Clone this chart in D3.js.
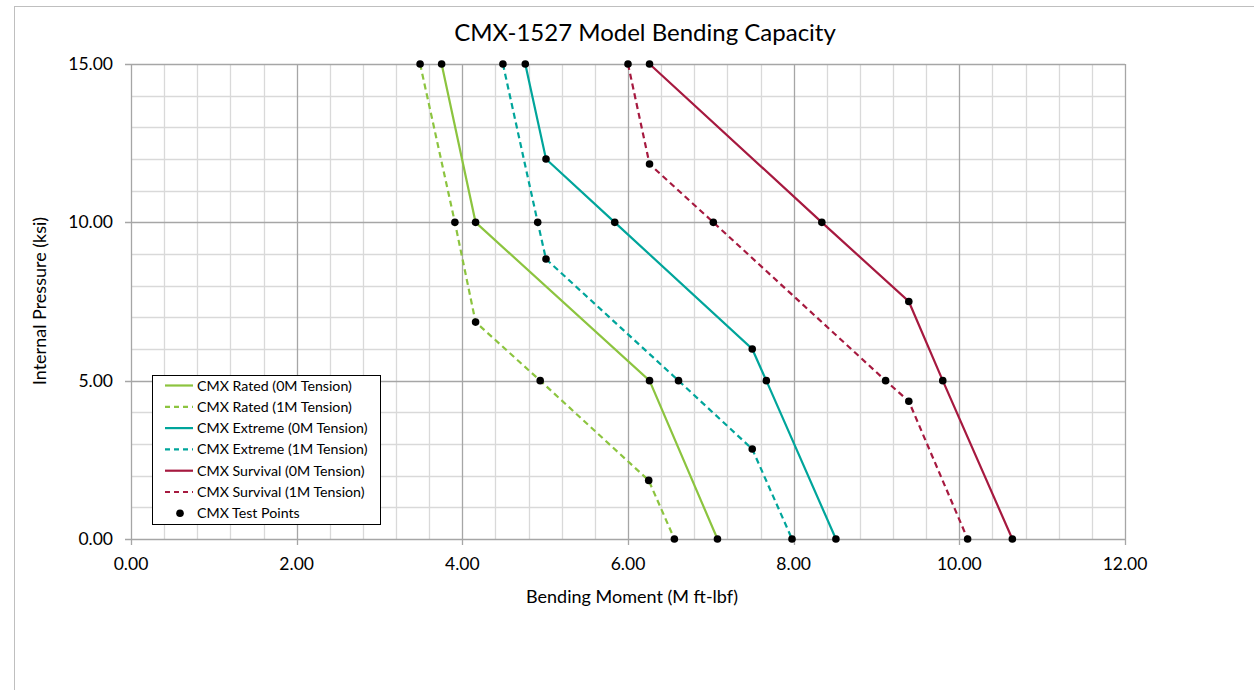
<!DOCTYPE html>
<html><head><meta charset="utf-8">
<script src="https://cdn.jsdelivr.net/npm/d3@7/dist/d3.min.js"></script>
<style>body{margin:0;background:#fff}svg{display:block}text{font-family:Lato,"Noto Sans",sans-serif;fill:#000}</style>
</head><body>
<script>
// Data: bending moment (M ft-lbf) vs internal pressure (ksi)
const ratedM0 = [3.75, 4.16, 6.26, 7.08];
const ratedP0 = [15, 10, 5, 0];
const ratedM1 = [3.49, 3.91, 4.16, 4.94, 6.25, 6.56];
const ratedP1 = [15, 10, 6.85, 5, 1.85, 0];
const extM0 = [4.76, 5.01, 5.84, 7.50, 7.67, 8.51];
const extP0 = [15, 12, 10, 6, 5, 0];
const extM1 = [4.49, 4.91, 5.01, 6.61, 7.50, 7.98];
const extP1 = [15, 10, 8.84, 5, 2.84, 0];
const survM0 = [6.26, 8.34, 9.39, 9.80, 10.64];
const survP0 = [15, 10, 7.5, 5, 0];
const survM1 = [6.00, 6.26, 7.03, 9.11, 9.39, 10.10];
const survP1 = [15, 11.84, 10, 5, 4.35, 0];
const seriesNames = ["CMX Rated (0M Tension)","CMX Rated (1M Tension)","CMX Extreme (0M Tension)","CMX Extreme (1M Tension)","CMX Survival (0M Tension)","CMX Survival (1M Tension)"];
const seriesColors = ["#8cc43f","#8cc43f","#00a59b","#00a59b","#a6193f","#a6193f"];
const seriesDashed = [false,true,false,true,false,true];
const xTicks = [0,2,4,6,8,10,12];
const yTicks = [0,5,10,15];
const title = "CMX-1527 Model Bending Capacity";
const xTitle = "Bending Moment (M ft-lbf)";
const yTitle = "Internal Pressure (ksi)";
const pointsName = "CMX Test Points";

const W = 1254, H = 690;
const svg = d3.select("body").append("svg").attr("width", W).attr("height", H);
// chart border
svg.append("rect").attr("x",14.5).attr("y",6.5).attr("width",1260).attr("height",700)
  .attr("fill","none").attr("stroke","#bfbfbf").attr("stroke-width",1);

const x = d3.scaleLinear().domain([0,12]).range([131,1125]);
const y = d3.scaleLinear().domain([0,15]).range([539,64]);

const g = svg.append("g");
// minor grid
const xMinor = d3.range(0, 12.0001, 0.4).filter(v => Math.abs(v/2 - Math.round(v/2)) > 1e-6);
const yMinor = d3.range(0, 15.0001, 1).filter(v => v % 5 !== 0);
g.selectAll(".vx").data(xMinor).enter().append("line")
  .attr("x1", d => Math.round(x(d))+0.5).attr("x2", d => Math.round(x(d))+0.5)
  .attr("y1", y(15)).attr("y2", y(0)).attr("stroke","#d9d9d9").attr("stroke-width",1.3);
g.selectAll(".hy").data(yMinor).enter().append("line")
  .attr("y1", d => Math.round(y(d))+0.5).attr("y2", d => Math.round(y(d))+0.5)
  .attr("x1", x(0)).attr("x2", x(12)).attr("stroke","#d9d9d9").attr("stroke-width",1.3);
// major grid
g.selectAll(".vX").data(xTicks).enter().append("line")
  .attr("x1", d => Math.round(x(d))+0.5).attr("x2", d => Math.round(x(d))+0.5)
  .attr("y1", y(15)).attr("y2", y(0)+6).attr("stroke","#a6a6a6").attr("stroke-width",1.3);
g.selectAll(".hY").data(yTicks).enter().append("line")
  .attr("y1", d => Math.round(y(d))+0.5).attr("y2", d => Math.round(y(d))+0.5)
  .attr("x1", x(0)-6).attr("x2", x(12)).attr("stroke","#a6a6a6").attr("stroke-width",1.3);

// tick labels
const fmt = d3.format(".2f");
g.selectAll(".xl").data(xTicks).enter().append("text")
  .attr("x", d => x(d)).attr("y", 570).attr("text-anchor","middle")
  .attr("font-size",17.5).text(d => fmt(d));
g.selectAll(".yl").data(yTicks).enter().append("text")
  .attr("x", 113).attr("y", d => y(d)+6).attr("text-anchor","end")
  .attr("font-size",17.5).text(d => fmt(d));

svg.append("text").attr("x", 645).attr("y", 41).attr("text-anchor","middle")
  .attr("font-size",24).text(title);
svg.append("text").attr("x", 632).attr("y", 603).attr("text-anchor","middle")
  .attr("font-size",18).text(xTitle);
svg.append("text").attr("transform","translate(46,301) rotate(-90)").attr("text-anchor","middle")
  .attr("font-size",18).text(yTitle);

// series
const allM = [ratedM0, ratedM1, extM0, extM1, survM0, survM1];
const allP = [ratedP0, ratedP1, extP0, extP1, survP0, survP1];
const series = allM.map((ms, i) => ({
  name: seriesNames[i], color: seriesColors[i], dashed: seriesDashed[i],
  pts: ms.map((m, j) => ({m, p: allP[i][j]}))
}));
const line = d3.line().x(d => x(d.m)).y(d => y(d.p));
g.selectAll(".s").data(series).enter().append("path")
  .attr("d", d => line(d.pts)).attr("fill","none")
  .attr("stroke", d => d.color).attr("stroke-width",2.2)
  .attr("stroke-dasharray", d => d.dashed ? "6,4" : null);
const testPts = series.flatMap(s => s.pts);
g.selectAll(".pt").data(testPts).enter().append("circle")
  .attr("cx", d => x(d.m)).attr("cy", d => y(d.p)).attr("r",3.8).attr("fill","#000");

// legend
const lg = svg.append("g");
lg.append("rect").attr("x",152.5).attr("y",375.5).attr("width",228).attr("height",149)
  .attr("fill","#fff").attr("stroke","#000").attr("stroke-width",1);
const legItems = series.map(s => ({name:s.name,color:s.color,dashed:s.dashed,pt:false}))
  .concat([{name:pointsName,pt:true}]);
const rows = lg.selectAll(".li").data(legItems).enter().append("g")
  .attr("transform",(d,i) => `translate(0,${385.5 + i*21.3})`);
rows.filter(d => !d.pt).append("line").attr("x1",165).attr("x2",193).attr("y1",0).attr("y2",0)
  .attr("stroke",d => d.color).attr("stroke-width",2.2)
  .attr("stroke-dasharray", d => d.dashed ? "5,4" : null);
rows.filter(d => d.pt).append("circle").attr("cx",180).attr("cy",0).attr("r",3.8).attr("fill","#000");
rows.append("text").attr("x",197).attr("y",5).attr("font-size",14.2).text(d => d.name);
</script>
</body></html>
